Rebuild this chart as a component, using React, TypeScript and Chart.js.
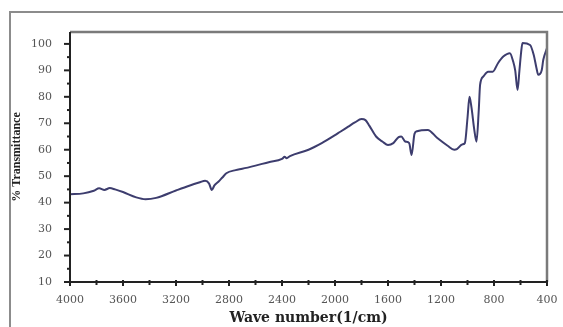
import React, { useEffect, useRef } from "react";
import { Chart, registerables } from "chart.js";

Chart.register(...registerables);

// Wavenumber (1/cm) and % transmittance
const wavenumbers = [
  4000, 3900, 3820, 3780, 3740, 3700, 3660, 3600, 3500, 3430, 3350, 3200,
  3100, 3020, 2980, 2950, 2930, 2910, 2880, 2850, 2820, 2750, 2700, 2600,
  2500, 2400, 2380, 2365, 2340, 2200, 2100, 2000, 1960, 1900, 1850, 1800,
  1770, 1740, 1690, 1640, 1600, 1560, 1520, 1500, 1470, 1440, 1422, 1400,
  1380, 1300, 1230, 1150, 1100, 1080, 1040, 1020, 1000, 985, 970, 950, 932,
  915, 905, 880, 845, 810, 770, 730, 680, 655, 640, 622, 608, 595, 585, 528,
  500, 480, 466, 440, 428, 400,
];
const transmittance = [
  43.2, 43.5, 44.5, 45.4, 44.8, 45.5, 45.0, 44.0, 42.0, 41.3, 41.8, 44.6,
  46.4, 47.7, 48.3, 47.2, 44.8, 46.5, 47.9, 49.5, 51.1, 52.3, 52.8, 54.0,
  55.3, 56.5, 57.3, 56.8, 57.6, 60.0, 62.5, 65.5, 66.8, 68.7, 70.3, 71.6,
  71.2, 69.0, 65.0, 63.0, 61.8, 62.5, 64.8, 65.0, 63.1, 62.5, 58.0, 66.0,
  67.0, 67.5, 64.5, 61.5, 60.0, 60.2, 62.0, 62.5, 72.0, 80.0, 76.0, 68.0,
  63.0, 75.0, 84.5, 87.7, 89.5, 89.5, 92.7, 95.2, 96.5, 93.3, 90.0, 82.6,
  90.0, 97.0, 100.3, 99.6, 95.8, 91.0, 88.3, 90.0, 94.0, 98.4,
];
const xTickValues = [4000, 3600, 3200, 2800, 2400, 2000, 1600, 1200, 800, 400];
const yTickValues = [10, 20, 30, 40, 50, 60, 70, 80, 90, 100];

const framePlugin = {
  id: "frame",
  afterDraw(chart: any) {
    const ctx = chart.ctx;
    const { left, right, top, bottom } = chart.chartArea;
    const xs = chart.scales.x;
    const ys = chart.scales.y;
    ctx.save();
    // outer picture border
    ctx.strokeStyle = "#8c8c8c";
    ctx.lineWidth = 2;
    ctx.beginPath();
    ctx.moveTo(10, 327);
    ctx.lineTo(10, 12);
    ctx.lineTo(563, 12);
    ctx.stroke();
    // top + right frame (gray)
    ctx.strokeStyle = "#7a7a7a";
    ctx.lineWidth = 2.5;
    ctx.beginPath();
    ctx.moveTo(left, top);
    ctx.lineTo(right, top);
    ctx.lineTo(right, bottom);
    ctx.stroke();
    // left + bottom axes (dark)
    ctx.strokeStyle = "#222";
    ctx.lineWidth = 2;
    ctx.beginPath();
    ctx.moveTo(left, top);
    ctx.lineTo(left, bottom);
    ctx.lineTo(right, bottom);
    ctx.stroke();
    // y ticks
    ctx.lineWidth = 2;
    for (let v = 10; v <= 100; v += 5) {
      const y = ys.getPixelForValue(v);
      const len = v % 10 === 0 ? 6 : 3;
      ctx.beginPath();
      ctx.moveTo(left, y);
      ctx.lineTo(left - len, y);
      ctx.stroke();
    }
    // x ticks
    for (let v = 400; v <= 4000; v += 200) {
      const x = xs.getPixelForValue(v);
      const len = v % 400 === 0 ? 4 : 3;
      ctx.beginPath();
      ctx.moveTo(x, bottom - 2);
      ctx.lineTo(x, bottom + len);
      ctx.stroke();
    }
    ctx.restore();
  },
};

export default function App() {
  const ref = useRef<HTMLCanvasElement>(null);
  useEffect(() => {
    if (!ref.current) return;
    const data = wavenumbers.map((w, i) => ({ x: w, y: transmittance[i] }));
    const chart = new Chart(ref.current, {
      type: "line",
      data: {
        datasets: [
          {
            data,
            borderColor: "#3d3d6e",
            borderWidth: 2,
            pointRadius: 0,
            cubicInterpolationMode: "monotone",
            fill: false,
          },
        ],
      },
      options: {
        animation: false,
        responsive: false,
        layout: { padding: { top: 32, right: 16, left: 0, bottom: 0 } },
        plugins: { legend: { display: false }, tooltip: { enabled: false } },
        scales: {
          x: {
            type: "linear",
            reverse: true,
            min: 400,
            max: 4000,
            grid: { display: false },
            border: { display: false },
            afterBuildTicks: (s: any) => {
              s.ticks = xTickValues.map((v) => ({ value: v }));
            },
            afterFit: (s: any) => {
              s.height = 45;
            },
            ticks: {
              autoSkip: false,
              maxRotation: 0,
              padding: 4,
              color: "#555",
              font: { family: "DejaVu Serif", size: 11 },
              callback: (v: any) => String(v),
            },
            title: {
              display: true,
              text: "Wave number(1/cm)",
              color: "#222",
              font: { family: "DejaVu Serif", size: 14, weight: "bold" },
              padding: { top: 0, bottom: 0 },
            },
          },
          y: {
            type: "linear",
            min: 10,
            max: 104.5,
            grid: { display: false },
            border: { display: false },
            afterBuildTicks: (s: any) => {
              s.ticks = yTickValues.map((v) => ({ value: v }));
            },
            afterFit: (s: any) => {
              s.width = 70;
            },
            ticks: {
              autoSkip: false,
              padding: 10,
              color: "#555",
              font: { family: "DejaVu Serif", size: 11 },
              callback: (v: any) => String(v),
            },
            title: {
              display: true,
              text: "% Transmittance",
              color: "#222",
              font: { family: "Liberation Serif", size: 12, weight: "bold" },
              padding: { top: 10, bottom: 0 },
            },
          },
        },
      },
      plugins: [framePlugin],
    } as any);
    return () => chart.destroy();
  }, []);
  return (
    <div style={{ position: "fixed", left: 0, top: 0, width: 563, height: 327, background: "#fff" }}>
      <canvas ref={ref} width={563} height={327} style={{ display: "block" }} />
    </div>
  );
}
